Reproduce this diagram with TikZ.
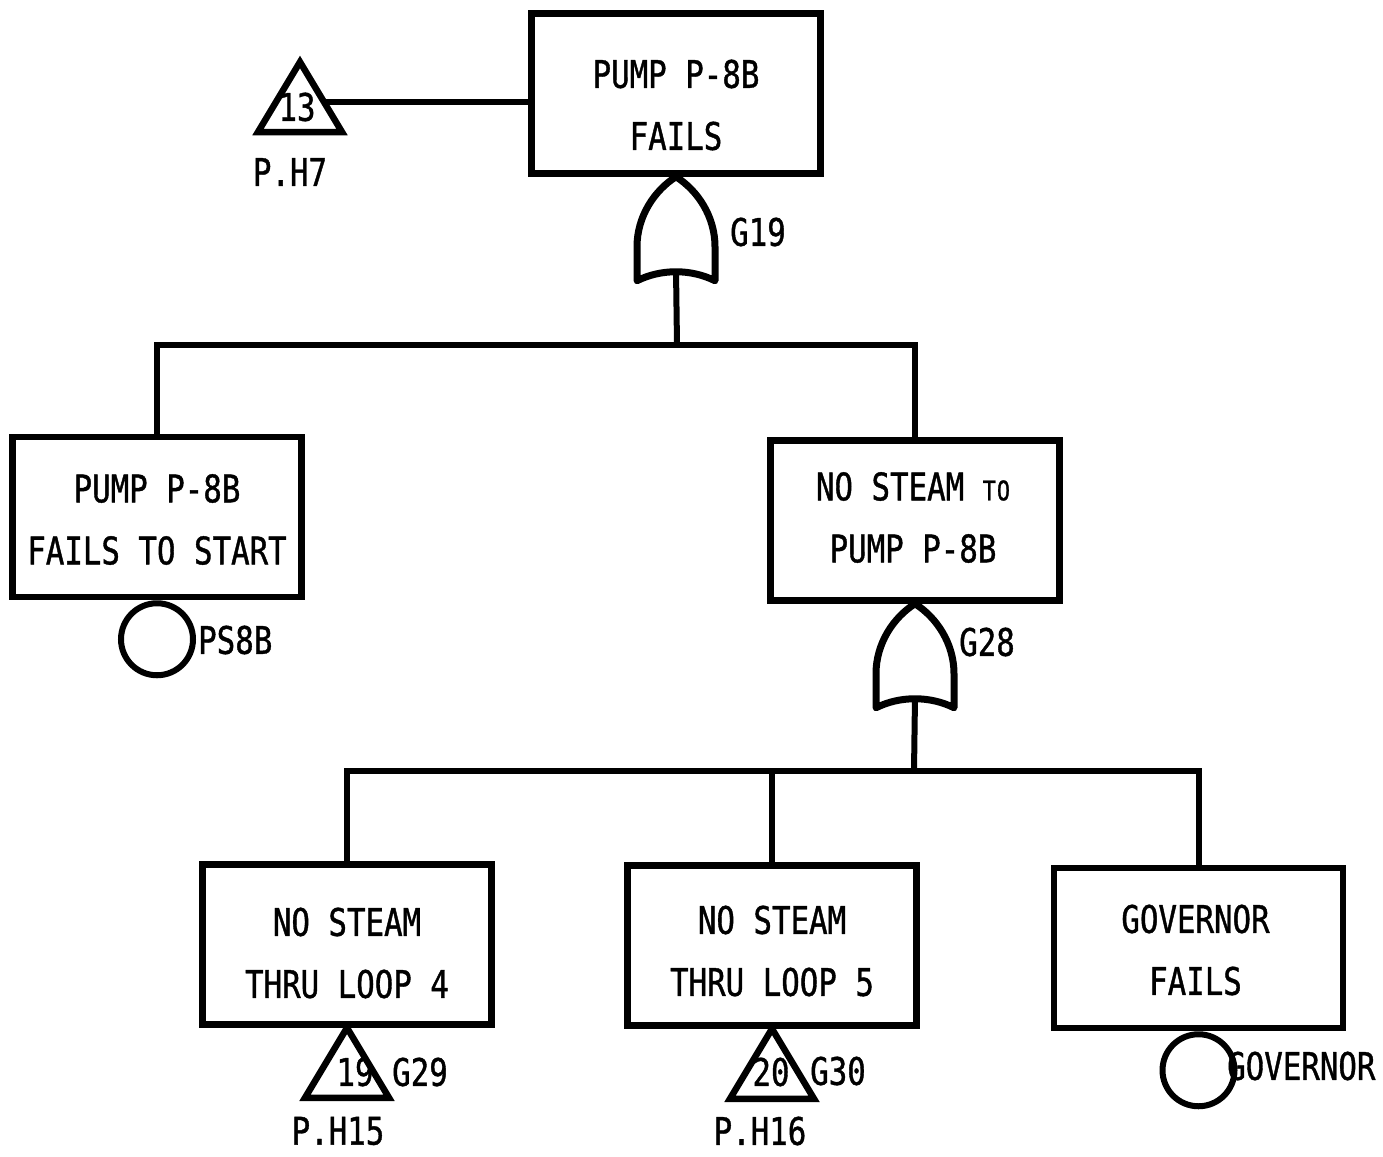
\documentclass[tikz,border=0pt]{standalone}
\usepackage{fontspec}
\newfontfamily\labfont[FakeStretch=0.81,FakeBold=1]{DejaVu Sans Mono}
\usetikzlibrary{calc}
\tikzset{
  box/.style={draw, line width=6.5pt, minimum width=289pt, minimum height=160pt, inner sep=0pt},
  boxtext/.style={inner sep=0pt, align=center, font=\labfont\fontsize{38}{62}\selectfont},
  lbl/.style={inner sep=0pt, font=\labfont\fontsize{38}{46}\selectfont},
  conn/.style={line width=6pt},
  basic/.style={draw, circle, line width=6pt, minimum size=72pt, inner sep=0pt},
  gateline/.style={line width=7pt, line join=round},
  trline/.style={line width=6.5pt, line join=miter},
  orgate/.pic={
    \draw[gateline] (0,0) .. controls (-22,14) and (-39,40) .. (-39,70) -- (-39,104)
      .. controls (-15,92) and (15,92) .. (39,104) -- (39,70)
      .. controls (39,40) and (22,14) .. (0,0) -- cycle;
    \coordinate (-out) at (0,93);
  },
  transfer/.pic={
    \draw[trline] (0,0) -- (-42,70) -- (42,70) -- cycle;
    \coordinate (-side) at (23.4,40);
  }
}
\begin{document}
\begin{tikzpicture}[x=1pt,y=-1pt]
\useasboundingbox[fill=white] (0,0) rectangle (1383,1156);
% boxes
\node[box] (top) at (676,93.5) {};
\node[box] (fs) at (157,517) {};
\node[box] (ns) at (915,520.5) {};
\node[box] (l4) at (347,944.5) {};
\node[box] (l5) at (772,945.5) {};
\node[box] (gv) at (1198.5,948) {};
\node[boxtext] (top-t) at ($(top.center)+(0,11.5)$) {PUMP P-8B\\FAILS};
\node[boxtext] (fs-t) at ($(fs.center)+(0,2.5)$) {PUMP P-8B\\FAILS TO START};
\node[boxtext] (ns-t) at ($(ns.center)+(-2,-3)$) {NO STEAM {\fontsize{27}{27}\selectfont T\kern1pt O}\\PUMP P-8B};
\node[boxtext] (l4-t) at ($(l4.center)+(0,8.5)$) {NO STEAM\\THRU LOOP 4};
\node[boxtext] (l5-t) at ($(l5.center)+(0,5.5)$) {NO STEAM\\THRU LOOP 5};
\node[boxtext] (gv-t) at ($(gv.center)+(-3,2)$) {GOVERNOR\\FAILS};
% gates
\pic (g19) at (top.south) {orgate};
\pic (g28) at (ns.south) {orgate};
\node[lbl] (g19l) at (758,232) {G19};
\node[lbl] (g28l) at (987,642) {G28};
% connectors
\coordinate (bus1) at (677,345);
\draw[conn] (g19-out) -- (bus1);
\draw[conn] (fs.north) |- (bus1) -| (ns.north);
\coordinate (bus2) at (914,771);
\draw[conn] (g28-out) -- (bus2);
\draw[conn] (l4.north) |- (bus2) -| (gv.north);
\draw[conn] (l5.north) -- (l5.north |- bus2);
% transfer 13
\pic (t13) at (300,62) {transfer};
\node[lbl] (n13) at (297,107) {13};
\node[lbl] (p7) at (290,172) {P.H7};
\draw[conn] (t13-side) -- (t13-side -| top.west);
% transfer 19
\pic (t19) at (l4.south) {transfer};
\node[lbl] (n19) at (355,1072) {19};
\node[lbl] (g29l) at (420,1072) {G29};
\node[lbl] (p15) at (338,1131) {P.H15};
% transfer 20
\pic (t20) at (l5.south) {transfer};
\node[lbl] (n20) at (771,1072) {20};
\node[lbl] (g30l) at (838,1071) {G30};
\node[lbl] (p16) at (760,1131) {P.H16};
% basic events
\node[basic, anchor=north] (ps8b) at (fs.south) {};
\node[lbl, anchor=west] (ps8bl) at (198,640) {PS8B};
\node[basic, anchor=north] (gov) at (gv.south) {};
\node[lbl, anchor=west] (govl) at (1227,1066) {GOVERNOR};
\end{tikzpicture}
\end{document}
